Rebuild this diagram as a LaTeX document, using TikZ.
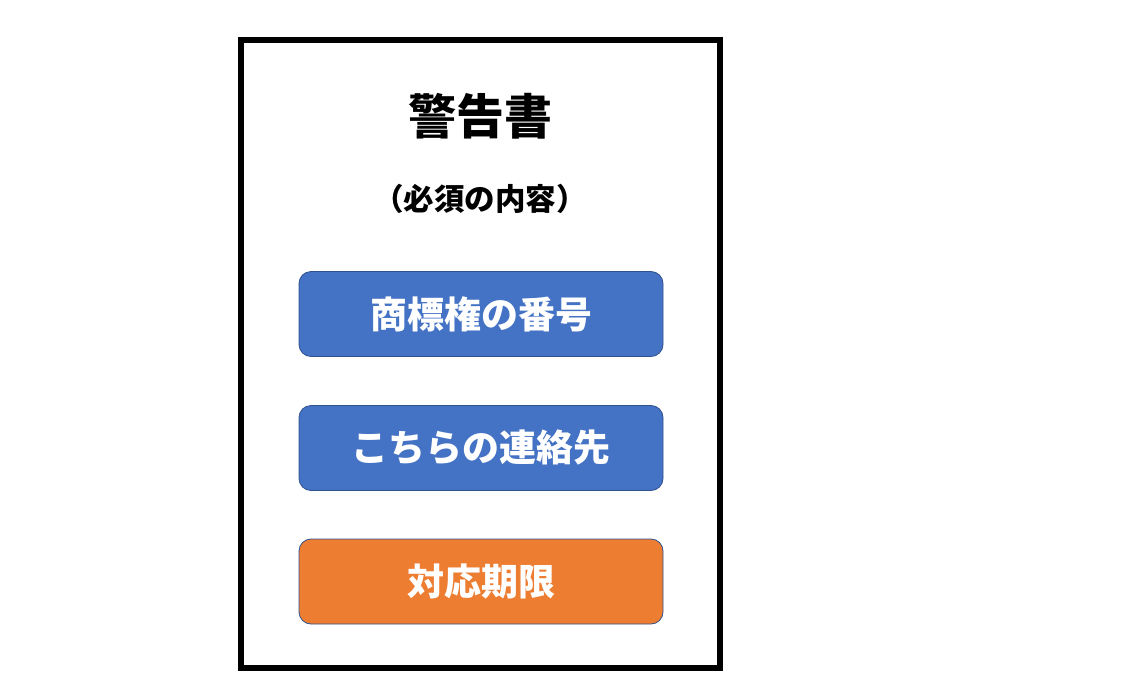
\documentclass[tikz,border=0pt]{standalone}
\usepackage{fontspec}
\newfontfamily\jpfont{Noto Sans CJK JP}
\definecolor{boxblue}{HTML}{4472C4}
\definecolor{boxorange}{HTML}{ED7D31}
\definecolor{boxedge}{HTML}{2F528F}
\begin{document}
\begin{tikzpicture}[x=1pt,y=-1pt,
  itembox/.style={draw=boxedge, line width=0.8pt, rounded corners=12pt,
    minimum width=364pt, minimum height=85pt, inner sep=0pt,
    text=white, font=\jpfont\bfseries\fontsize{37}{37}\selectfont},
  bluebox/.style={itembox, fill=boxblue},
  orangebox/.style={itembox, fill=boxorange}]
\useasboundingbox (0,0) rectangle (1145,688);
\draw[line width=6pt] (241,40) rectangle (720,668);
\node[font=\jpfont\bfseries\fontsize{48}{48}\selectfont] (title) at (480,116) {警告書};
\node[font=\jpfont\bfseries\fontsize{30.5}{30.5}\selectfont] (sub) at (480,199) {（必須の内容）};
\node[bluebox] (b1) at (481,314) {商標権の番号};
\node[bluebox] (b2) at (481,448) {こちらの連絡先};
\node[orangebox] (b3) at (481,581.5) {対応期限};
\end{tikzpicture}
\end{document}
